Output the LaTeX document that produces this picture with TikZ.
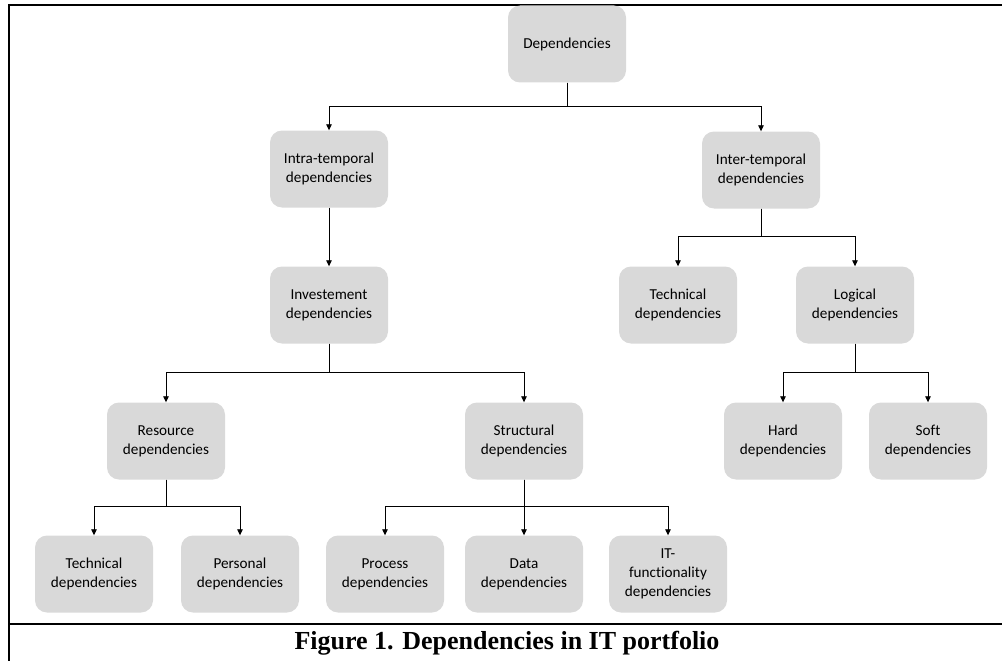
\documentclass[tikz,border=0pt]{standalone}
\usepackage{fontspec}
\setmainfont{Carlito}[Ligatures=NoCommon]
\newfontfamily\capfont{Liberation Serif}
\usetikzlibrary{positioning,arrows.meta}

\begin{document}
\begin{tikzpicture}[x=1pt, y=-1pt, every node/.style={font=\fontsize{15.2}{19}\selectfont}]
\tikzstyle{box}=[rectangle, rounded corners=12pt, fill=black!15, minimum height=77pt, minimum width=118pt, inner sep=0pt, align=center]
\tikzstyle{link}=[-{Triangle[length=6pt,width=5.5pt]}, line width=0.8pt]
\tikzstyle{frame}=[line width=2.4pt]
\useasboundingbox (0,0) rectangle (1002,661);
% frame and caption rule
\draw[frame] (9,661) -- (9,5) -- (1002,5);
\draw[frame] (9,624) -- (1002,624);
% tree
\node[box] (dep) at (567,44) {Dependencies};
\node[box] (intra) at (329,169) {Intra-temporal\\dependencies};
\node[box] (inter) at (761,170) {Inter-temporal\\dependencies};
\node[box] (invest) at (329,305) {Investement\\dependencies};
\node[box] (techtwo) at (678,305) {Technical\\dependencies};
\node[box] (logic) at (855,305) {Logical\\dependencies};
\node[box] (resource) at (166,441) {Resource\\dependencies};
\node[box] (struct) at (524,441) {Structural\\dependencies};
\node[box] (hard) at (783,441) {Hard\\dependencies};
\node[box] (soft) at (928,441) {Soft\\dependencies};
\node[box] (techone) at (94,574) {Technical\\dependencies};
\node[box] (person) at (240,574) {Personal\\dependencies};
\node[box] (process) at (385,574) {Process\\dependencies};
\node[box] (data) at (524,574) {Data\\dependencies};
\node[box] (itfunc) at (668,574) {IT-\\functionality\\dependencies};
\node[font=\capfont\bfseries\fontsize{26}{30}\selectfont, anchor=base] (cap) at (507,649) {Figure 1. Dependencies in IT portfolio};
% connectors
\draw[link] (dep.south) -- ++(0,24) -| (intra.north);
\draw[link] (dep.south) -- ++(0,24) -| (inter.north);
\draw[link] (intra) -- (invest);
\draw[link] (invest.south) -- ++(0,29) -| (resource.north);
\draw[link] (invest.south) -- ++(0,29) -| (struct.north);
\draw[link] (inter.south) -- ++(0,28) -| (techtwo.north);
\draw[link] (inter.south) -- ++(0,28) -| (logic.north);
\draw[link] (logic.south) -- ++(0,29) -| (hard.north);
\draw[link] (logic.south) -- ++(0,29) -| (soft.north);
\draw[link] (resource.south) -- ++(0,27) -| (techone.north);
\draw[link] (resource.south) -- ++(0,27) -| (person.north);
\draw[link] (struct.south) -- ++(0,27) -| (process.north);
\draw[link] (struct) -- (data);
\draw[link] (struct.south) -- ++(0,27) -| (itfunc.north);
\end{tikzpicture}
\end{document}
